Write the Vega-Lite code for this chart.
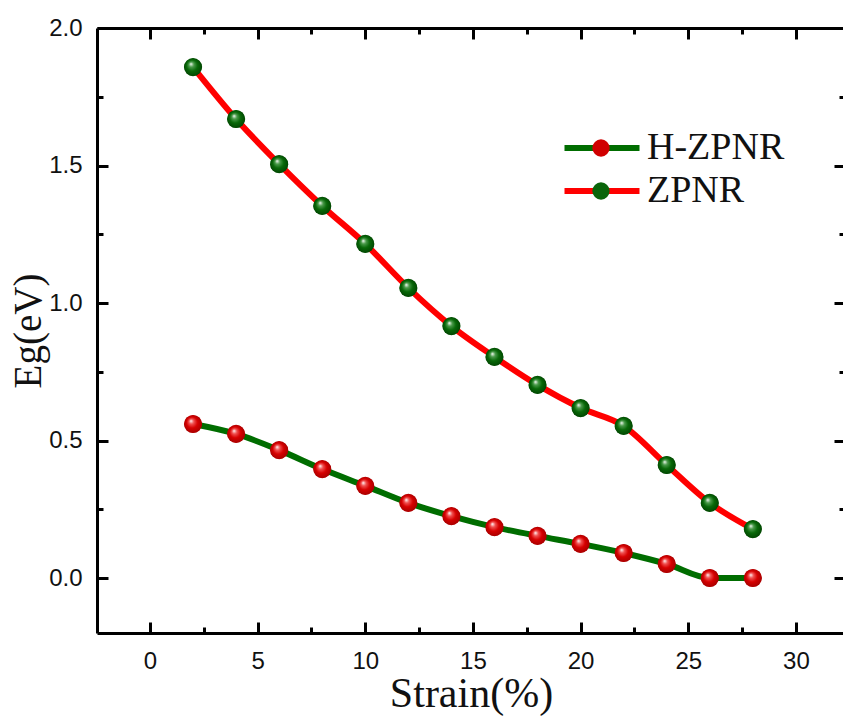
{
  "$schema": "https://vega.github.io/schema/vega-lite/v6.json",
  "width": 748,
  "height": 605,
  "autosize": {"type": "none"},
  "padding": {"left": 97, "top": 28, "right": 0, "bottom": 84},
  "background": "white",
  "config": {
    "view": {"stroke": null},
    "axis": {
      "domainColor": "black",
      "domainWidth": 3,
      "tickColor": "black",
      "tickWidth": 3,
      "grid": false,
      "labelFont": "Liberation Sans",
      "labelFontSize": 24,
      "labelColor": "#111111",
      "titleFont": "Liberation Serif",
      "titleFontSize": 39,
      "titleFontWeight": "normal",
      "titleColor": "#111111"
    },
    "legend": {
      "labelFont": "Liberation Serif",
      "labelFontSize": 38,
      "labelColor": "#111111",
      "padding": 0
    }
  },
  "data": {
    "values": [
      {"strain": 2, "eg": 1.858, "series": "ZPNR"},
      {"strain": 4, "eg": 1.669, "series": "ZPNR"},
      {"strain": 6, "eg": 1.505, "series": "ZPNR"},
      {"strain": 8, "eg": 1.353, "series": "ZPNR"},
      {"strain": 10, "eg": 1.215, "series": "ZPNR"},
      {"strain": 12, "eg": 1.055, "series": "ZPNR"},
      {"strain": 14, "eg": 0.916, "series": "ZPNR"},
      {"strain": 16, "eg": 0.804, "series": "ZPNR"},
      {"strain": 18, "eg": 0.702, "series": "ZPNR"},
      {"strain": 20, "eg": 0.618, "series": "ZPNR"},
      {"strain": 22, "eg": 0.553, "series": "ZPNR"},
      {"strain": 24, "eg": 0.411, "series": "ZPNR"},
      {"strain": 26, "eg": 0.273, "series": "ZPNR"},
      {"strain": 28, "eg": 0.178, "series": "ZPNR"},
      {"strain": 2, "eg": 0.560, "series": "H-ZPNR"},
      {"strain": 4, "eg": 0.524, "series": "H-ZPNR"},
      {"strain": 6, "eg": 0.465, "series": "H-ZPNR"},
      {"strain": 8, "eg": 0.396, "series": "H-ZPNR"},
      {"strain": 10, "eg": 0.335, "series": "H-ZPNR"},
      {"strain": 12, "eg": 0.273, "series": "H-ZPNR"},
      {"strain": 14, "eg": 0.225, "series": "H-ZPNR"},
      {"strain": 16, "eg": 0.185, "series": "H-ZPNR"},
      {"strain": 18, "eg": 0.153, "series": "H-ZPNR"},
      {"strain": 20, "eg": 0.124, "series": "H-ZPNR"},
      {"strain": 22, "eg": 0.091, "series": "H-ZPNR"},
      {"strain": 24, "eg": 0.051, "series": "H-ZPNR"},
      {"strain": 26, "eg": 0.0, "series": "H-ZPNR"},
      {"strain": 28, "eg": 0.0, "series": "H-ZPNR"}
    ]
  },
  "resolve": {"axis": {"x": "independent", "y": "independent"}},
  "layer": [
    {
      "mark": {"type": "line", "interpolate": "monotone", "strokeWidth": 6, "clip": true},
      "encoding": {
        "x": {
          "field": "strain", "type": "quantitative",
          "scale": {"domain": [-2.46, 32.28], "nice": false, "zero": false},
          "axis": {
            "orient": "bottom",
            "title": "Strain(%)",
            "titleFontSize": 42,
            "titlePadding": 0,
            "values": [0, 2.5, 5, 7.5, 10, 12.5, 15, 17.5, 20, 22.5, 25, 27.5, 30],
            "labelExpr": "datum.value % 5 == 0 ? format(datum.value, 'd') : ''",
            "tickSize": {"condition": {"test": "datum.value % 5 != 0", "value": -6}, "value": -11},
            "labelPadding": 27
          }
        },
        "y": {
          "field": "eg", "type": "quantitative",
          "scale": {"domain": [-0.2, 2.0], "nice": false, "zero": false},
          "axis": {
            "orient": "left",
            "title": "Eg(eV)",
            "titlePadding": 0,
            "values": [0, 0.25, 0.5, 0.75, 1, 1.25, 1.5, 1.75, 2],
            "labelExpr": "datum.value % 0.5 == 0 ? format(datum.value, '.1f') : ''",
            "tickSize": {"condition": {"test": "datum.value % 0.5 != 0", "value": -6}, "value": -11},
            "labelPadding": 26
          }
        },
        "stroke": {
          "field": "series", "type": "nominal",
          "scale": {"range": ["#006d00", "#ff0000"]},
          "legend": {
            "title": null,
            "orient": "none",
            "legendX": 486,
            "legendY": 101,
            "symbolType": "M -2.5 0 L 2.5 0",
            "symbolSize": 900,
            "symbolStrokeWidth": 6,
            "symbolFillColor": "transparent",
            "rowPadding": 5,
            "labelOffset": 26
          }
        }
      }
    },
    {
      "mark": {"type": "point", "filled": true, "size": 300, "opacity": 1, "strokeWidth": 0},
      "encoding": {
        "x": {
          "field": "strain", "type": "quantitative",
          "axis": {
            "orient": "top",
            "title": null,
            "labels": false,
            "values": [0, 2.5, 5, 7.5, 10, 12.5, 15, 17.5, 20, 22.5, 25, 27.5, 30],
            "tickSize": {"condition": {"test": "datum.value % 5 != 0", "value": -6}, "value": -11}
          }
        },
        "y": {
          "field": "eg", "type": "quantitative",
          "axis": {
            "orient": "right",
            "title": null,
            "labels": false,
            "values": [0, 0.25, 0.5, 0.75, 1, 1.25, 1.5, 1.75, 2],
            "tickSize": {"condition": {"test": "datum.value % 0.5 != 0", "value": -6}, "value": -11}
          }
        },
        "fill": {
          "field": "series", "type": "nominal",
          "scale": {"domain": ["H-ZPNR", "ZPNR"], "range": ["#d00000", "#0a650a"]},
          "legend": {
            "title": null,
            "orient": "none",
            "legendX": 485,
            "legendY": 101,
            "symbolType": "circle",
            "symbolSize": 300,
            "symbolStrokeWidth": 0,
            "symbolOpacity": 1,
            "rowPadding": 5,
            "labelOffset": 10,
            "labelOpacity": 0
          }
        }
      }
    },
    {
      "mark": {"type": "point", "filled": true, "size": 330, "opacity": 1, "strokeWidth": 0},
      "encoding": {
        "x": {"field": "strain", "type": "quantitative", "axis": null},
        "y": {"field": "eg", "type": "quantitative", "axis": null},
        "fill": {
          "condition": {
            "test": "datum.series == 'H-ZPNR'",
            "value": {"gradient": "radial", "x1": 0.38, "y1": 0.32, "r1": 0, "x2": 0.5, "y2": 0.5, "r2": 0.55,
              "stops": [{"offset": 0, "color": "#ffffff"}, {"offset": 0.25, "color": "#f05050"}, {"offset": 0.55, "color": "#d60000"}, {"offset": 1, "color": "#a00000"}]}
          },
          "value": {"gradient": "radial", "x1": 0.38, "y1": 0.32, "r1": 0, "x2": 0.5, "y2": 0.5, "r2": 0.55,
            "stops": [{"offset": 0, "color": "#ffffff"}, {"offset": 0.25, "color": "#4a9a4a"}, {"offset": 0.55, "color": "#086808"}, {"offset": 1, "color": "#004000"}]}
        }
      }
    }
  ]
}
